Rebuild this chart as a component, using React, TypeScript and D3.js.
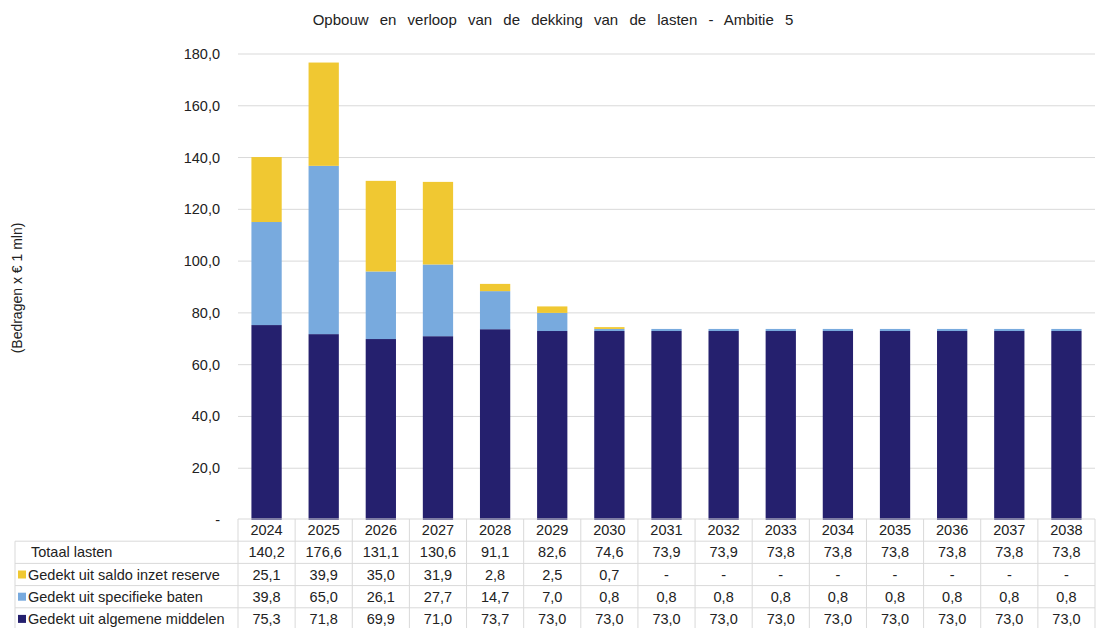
import React from "react";
import * as d3 from "d3";

const years = ["2024","2025","2026","2027","2028","2029","2030","2031","2032","2033","2034","2035","2036","2037","2038"];
const algemene = [75.3,71.8,69.9,71.0,73.7,73.0,73.0,73.0,73.0,73.0,73.0,73.0,73.0,73.0,73.0];
const specifieke = [39.8,65.0,26.1,27.7,14.7,7.0,0.8,0.8,0.8,0.8,0.8,0.8,0.8,0.8,0.8];
const reserve = [25.1,39.9,35.0,31.9,2.8,2.5,0.7,0,0,0,0,0,0,0,0];
const totaal = [140.2,176.6,131.1,130.6,91.1,82.6,74.6,73.9,73.9,73.8,73.8,73.8,73.8,73.8,73.8];
const yTicks = [0,20,40,60,80,100,120,140,160,180];

const seriesNames = ["Gedekt uit algemene middelen","Gedekt uit specifieke baten","Gedekt uit saldo inzet reserve"];
const colors = ["#25206e","#78aade","#f0c832"];

const W = 1097, H = 628;
const left = 238, right = 1095;
const fmt = (v: number) => v === 0 ? "-" : v.toFixed(1).replace(".", ",");

export default function App() {
  const x = d3.scaleBand<string>().domain(years).range([left, right]).paddingInner(0.47).paddingOuter(0.235);
  const cols = d3.scaleBand<string>().domain(years).range([left, right]);
  const y = d3.scaleLinear().domain([0, 180]).range([520, 54]);
  const rows = years.map((yr, i) => ({ yr, algemene: algemene[i], specifieke: specifieke[i], reserve: reserve[i] }));
  const stack = d3.stack<any>().keys(["algemene", "specifieke", "reserve"])(rows);
  const font = "'Liberation Sans', Arial, sans-serif";
  const rowTop = 519, rowH = 22.2;
  const fs = 14.5;
  const tableRows = [
    { name: "Totaal lasten", vals: totaal, color: null as string | null },
    { name: seriesNames[2], vals: reserve, color: colors[2] },
    { name: seriesNames[1], vals: specifieke, color: colors[1] },
    { name: seriesNames[0], vals: algemene, color: colors[0] },
  ];
  const grid = "#d9d9d9";
  return (
    <svg width={W} height={H} style={{ position: "absolute", left: 0, top: 0 }} fontFamily={font}>
      <rect width={W} height={H} fill="#fff" />
      <text x={553} y={25} textAnchor="middle" fontSize={15} wordSpacing={7} fill="#222">Opbouw en verloop van de dekking van de lasten - Ambitie 5</text>
      <text transform={`translate(22,288) rotate(-90)`} textAnchor="middle" fontSize={14} fill="#222">(Bedragen x € 1 mln)</text>
      {yTicks.map(t => (
        <g key={t}>
          {t > 0 && <line x1={left} x2={right} y1={y(t)} y2={y(t)} stroke={grid} strokeWidth={1} />}
          <text x={220} y={y(t) + 5} textAnchor="end" fontSize={fs} fill="#222">{fmt(t)}</text>
        </g>
      ))}
      {stack.map((s, si) => (
        <g key={si} fill={colors[si]}>
          {s.map((d, i) => {
            const h = y(d[0]) - y(d[1]);
            if (h <= 0) return null;
            return <rect key={i} x={x(years[i])!} width={x.bandwidth()} y={y(d[1])} height={h} />;
          })}
        </g>
      ))}
      {/* table */}
      <g stroke={grid} strokeWidth={1} fill="none">
        <line x1={left} x2={right} y1={rowTop} y2={rowTop} />
        {d3.range(1, 6).map(r => (
          <line key={r} x1={15} x2={right} y1={rowTop + r * rowH} y2={rowTop + r * rowH} />
        ))}
        <line x1={15} x2={15} y1={rowTop + rowH} y2={H} />
        {years.map(yr => <line key={yr} x1={cols(yr)!} x2={cols(yr)!} y1={rowTop} y2={H} />)}
        <line x1={right} x2={right} y1={rowTop} y2={H} />
      </g>
      {years.map(yr => (
        <text key={yr} x={cols(yr)! + cols.bandwidth() / 2} y={rowTop + rowH / 2 + 5} textAnchor="middle" fontSize={fs} fill="#222">{yr}</text>
      ))}
      {tableRows.map((r, ri) => {
        const cy = rowTop + (ri + 1) * rowH + rowH / 2;
        return (
          <g key={ri}>
            {r.color && <rect x={18} y={cy - 4} width={8} height={8} fill={r.color} />}
            <text x={r.color ? 28 : 31} y={cy + 5} fontSize={fs} fill="#222">{r.name}</text>
            {r.vals.map((v, i) => (
              <text key={i} x={cols(years[i])! + cols.bandwidth() / 2} y={cy + 5} textAnchor="middle" fontSize={fs} fill="#222">{fmt(v)}</text>
            ))}
          </g>
        );
      })}
    </svg>
  );
}
